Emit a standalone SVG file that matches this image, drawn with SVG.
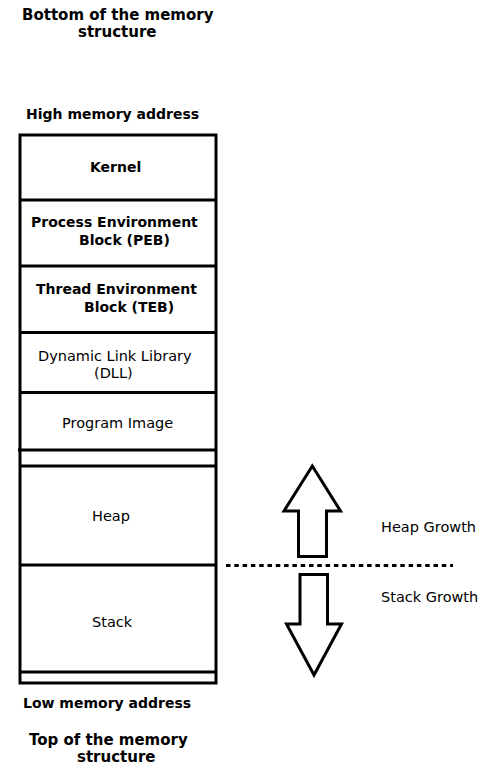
<svg xmlns="http://www.w3.org/2000/svg" width="490" height="769" viewBox="0 0 490 769">
<style>
text{font-family:"DejaVu Sans","Verdana",sans-serif;fill:#000}
.t{font-size:15px;font-weight:bold}
.b{font-size:14px;font-weight:bold}
.r{font-size:14.5px}
.box{fill:#fff;stroke:#000;stroke-width:3}
.ln{stroke:#000;stroke-width:3}
.arr{fill:#fff;stroke:#000;stroke-width:3;stroke-linejoin:miter}
</style>
<rect width="490" height="769" fill="#fff"/>
<g id="title-top">
<text class="t" x="22" y="20">Bottom of the memory</text>
<text class="t" x="78" y="37">structure</text>
</g>
<g id="high-label"><text class="b" x="26" y="119">High memory address</text></g>
<g id="memory-stack">
<rect class="box" x="20" y="135" width="196" height="548"/>
</g>
<g id="kernel">
<line class="ln" x1="20" y1="200" x2="216" y2="200"/>
<text class="b" x="90" y="172">Kernel</text>
</g>
<g id="peb">
<line class="ln" x1="20" y1="266" x2="216" y2="266"/>
<text class="b" x="31" y="227">Process Environment</text>
<text class="b" x="79" y="245">Block (PEB)</text>
</g>
<g id="teb">
<line class="ln" x1="20" y1="332.5" x2="216" y2="332.5"/>
<text class="b" x="36" y="294">Thread Environment</text>
<text class="b" x="84" y="312">Block (TEB)</text>
</g>
<g id="dll">
<line class="ln" x1="20" y1="392.5" x2="216" y2="392.5"/>
<text class="r" x="38" y="361">Dynamic Link Library</text>
<text class="r" x="94" y="378">(DLL)</text>
</g>
<g id="program-image">
<line class="ln" x1="18" y1="450" x2="216" y2="450"/>
<text class="r" x="62" y="428">Program Image</text>
</g>
<g id="gap">
<line class="ln" x1="20" y1="466" x2="216" y2="466"/>
</g>
<g id="heap">
<line class="ln" x1="20" y1="565" x2="216" y2="565"/>
<text class="r" x="92" y="521">Heap</text>
</g>
<g id="stack">
<line class="ln" x1="20" y1="672" x2="216" y2="672"/>
<text class="r" x="92" y="627">Stack</text>
</g>
<g id="low-label"><text class="b" x="23" y="708">Low memory address</text></g>
<g id="title-bottom">
<text class="t" x="29" y="745">Top of the memory</text>
<text class="t" x="77" y="762">structure</text>
</g>
<g id="connectors">
<line x1="226" y1="565.5" x2="453" y2="565.5" stroke="#000" stroke-width="3" stroke-dasharray="4.5 3.8"/>
<polygon class="arr" points="312.3,466 340.5,511 326.5,511 326.5,556.5 298.5,556.5 298.5,511 284,511"/>
<polygon class="arr" points="300,574.5 327.5,574.5 327.5,624 341.5,624 314,675 286.5,624 300,624"/>
</g>
<g id="heap-growth"><text class="r" x="381" y="532">Heap Growth</text></g>
<g id="stack-growth"><text class="r" x="381" y="602">Stack Growth</text></g>
</svg>
